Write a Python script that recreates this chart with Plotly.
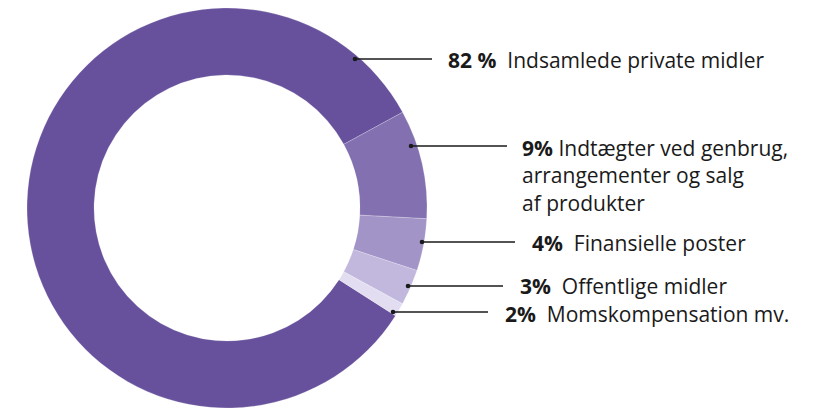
import plotly.graph_objects as go

# data
categories = ["Indsamlede private midler",
              "Indtægter ved genbrug, arrangementer og salg af produkter",
              "Finansielle poster", "Offentlige midler", "Momskompensation mv."]
pct_labels = ["82 %", "9%", "4%", "3%", "2%"]
label_texts = ["Indsamlede private midler",
               "Indtægter ved genbrug,<br>arrangementer og salg<br>af produkter",
               "Finansielle poster", "Offentlige midler", "Momskompensation mv."]
values = [83.0, 8.8, 4.2, 2.9, 1.1]  # slice sizes as drawn
colors = ["#67519c", "#8370b0", "#a394c8", "#c2b8de", "#e2ddf0"]

W, H = 826, 409
cx, cy, R = 227, 208, 200

fig = go.Figure()
fig.add_trace(go.Pie(
    labels=categories, values=values, sort=False, direction="clockwise",
    rotation=122.6, hole=0.665, textinfo="none", hoverinfo="label+percent",
    marker=dict(colors=colors, line=dict(color="rgba(255,255,255,0.35)", width=0.6)),
    domain=dict(x=[(cx - R) / W, (cx + R) / W], y=[1 - (cy + R) / H, 1 - (cy - R) / H]),
    showlegend=False,
))

# leader line layout (pixel positions): dot x, y, line end x, text x, text center y
leaders = [
    (355, 59, 432, 446, 60),
    (411, 146, 507, 520, 175.5),
    (422, 242, 515, 530, 243),
    (408, 286, 503, 518, 286),
    (393, 312, 488, 503, 314),
]
font = dict(family="Open Sans, sans-serif", size=21, color="#1a1a1a")
for (dx, dy, ex, tx, ty), p, t in zip(leaders, pct_labels, label_texts):
    fig.add_shape(type="line", xref="x", yref="y", x0=dx, y0=dy, x1=ex, y1=dy,
                  line=dict(color="#1a1a1a", width=1.6))
    fig.add_shape(type="circle", xref="x", yref="y", x0=dx - 2.3, y0=dy - 2.3,
                  x1=dx + 2.3, y1=dy + 2.3, fillcolor="#1a1a1a", line=dict(width=0))
    sep = "&nbsp;&nbsp;" if "<br>" not in t else " "
    fig.add_annotation(x=tx, y=ty, xref="x", yref="y", xanchor="left", yanchor="middle",
                       text=f"<b>{p}</b>{sep}{t}", showarrow=False, align="left",
                       font=font)

fig.update_xaxes(range=[0, W], visible=False, fixedrange=True)
fig.update_yaxes(range=[H, 0], visible=False, fixedrange=True)
fig.update_layout(width=W, height=H, margin=dict(l=0, r=0, t=0, b=0),
                  paper_bgcolor="white", plot_bgcolor="rgba(0,0,0,0)")
fig.write_html("out.html")
